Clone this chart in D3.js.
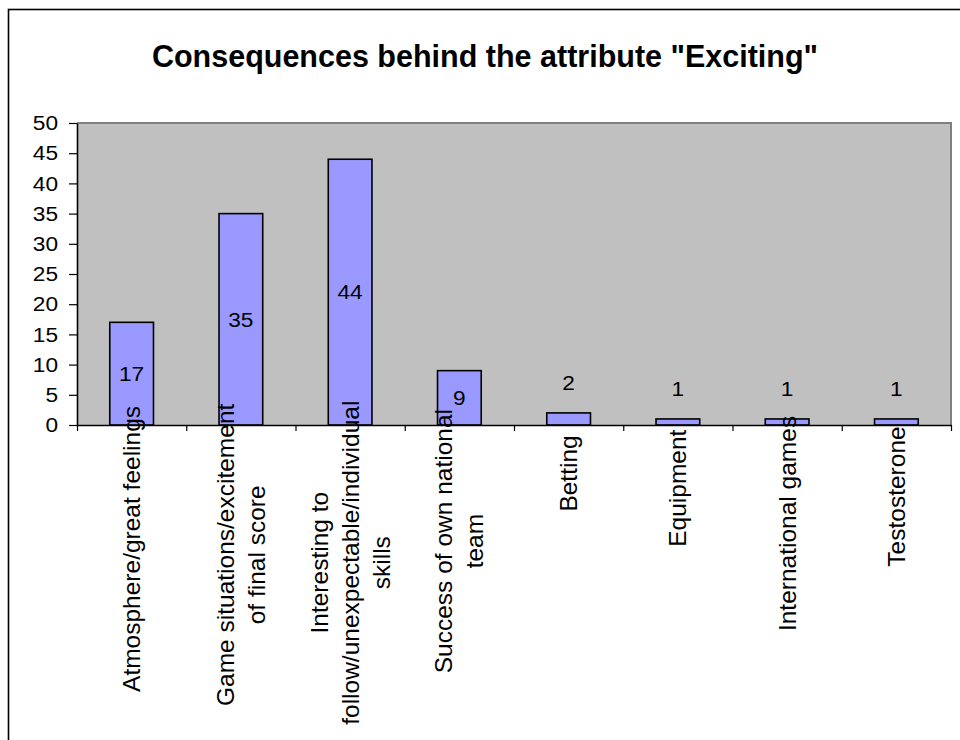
<!DOCTYPE html>
<html>
<head>
<meta charset="utf-8">
<script src="https://cdn.jsdelivr.net/npm/d3@7"></script>
<style>
  body { margin: 0; background: #fff; }
  svg text { font-family: "Liberation Sans", Arial, sans-serif; fill: #000; }
</style>
</head>
<body>
<div class="chartDiv"></div>
<script>
"use strict";

// values
var categories = ["Atmosphere/great feelings", "Game situations/excitement of final score",
  "Interesting to follow/unexpectable/individual skills", "Success of own national team",
  "Betting", "Equipment", "International games", "Testosterone"];
var labelLines = [
  ["Atmosphere/great feelings"],
  ["Game situations/excitement", "of final score"],
  ["Interesting to", "follow/unexpectable/individual", "skills"],
  ["Success of own national", "team"],
  ["Betting"],
  ["Equipment"],
  ["International games"],
  ["Testosterone"]
];
var values = [17, 35, 44, 9, 2, 1, 1, 1];
var yTicks = [0, 5, 10, 15, 20, 25, 30, 35, 40, 45, 50];
var title = "Consequences behind the attribute \"Exciting\"";

var width = 960, height = 740;
var plot = {left: 77, right: 951, top: 123, bottom: 425};
var stretch = 1.08; // numbers in the original are a bit wider than Arial

var svg = d3.select(".chartDiv").append("svg")
    .attr("width", width)
    .attr("height", height);

// outer chart border (runs off the right / bottom edge like the original)
svg.append("rect")
    .attr("x", 8.5).attr("y", 9.5)
    .attr("width", 1000).attr("height", 1000)
    .attr("fill", "#fff")
    .attr("stroke", "#000")
    .attr("stroke-width", 1.6);

svg.append("text")
    .attr("x", 485).attr("y", 67)
    .attr("text-anchor", "middle")
    .style("font-size", "30.5px")
    .style("font-weight", "bold")
    .text(title);

var x = d3.scaleBand()
    .domain(categories)
    .range([plot.left, plot.right])
    .paddingInner(0.6)
    .paddingOuter(0.3);

// index scale, used for the category boundary ticks
var xIdx = d3.scaleLinear()
    .domain([0, categories.length])
    .range([plot.left, plot.right]);

var y = d3.scaleLinear()
    .domain([0, 50])
    .range([plot.bottom, plot.top]);

// plot area
svg.append("rect")
    .attr("x", plot.left).attr("y", plot.top)
    .attr("width", plot.right - plot.left)
    .attr("height", plot.bottom - plot.top)
    .attr("fill", "#c0c0c0");
svg.append("path")
    .attr("d", "M" + plot.left + "," + plot.top + "H" + plot.right + "V" + plot.bottom)
    .attr("fill", "none")
    .attr("stroke", "#808080")
    .attr("stroke-width", 2);

// bars
svg.selectAll(".bar")
    .data(values)
    .enter().append("rect")
    .attr("class", "bar")
    .attr("x", function(d, i) { return x(categories[i]); })
    .attr("y", function(d) { return y(d); })
    .attr("width", x.bandwidth())
    .attr("height", function(d) { return y(0) - y(d); })
    .attr("fill", "#9999ff")
    .attr("stroke", "#000")
    .attr("stroke-width", 1.6);

// axes
var yAxis = svg.append("g")
    .attr("transform", "translate(" + plot.left + ",0)")
    .call(d3.axisLeft(y).tickValues(yTicks).tickSize(8).tickSizeOuter(0).tickPadding(11));
yAxis.selectAll("text")
    .style("font-size", "21px")
    .attr("fill", "#000")
    .attr("x", -19 / stretch)
    .attr("transform", "scale(" + stretch + ",1)");

var xAxis = svg.append("g")
    .attr("transform", "translate(0," + plot.bottom + ")")
    .call(d3.axisBottom(xIdx).ticks(categories.length).tickSize(6).tickSizeOuter(0).tickFormat(""));

svg.selectAll(".domain").attr("stroke", "#000").attr("stroke-width", 1.6);
svg.selectAll(".tick line").attr("stroke", "#000").attr("stroke-width", 1.2);

// value labels: centred in tall bars, above short ones
svg.selectAll(".val")
    .data(values)
    .enter().append("text")
    .attr("class", "val")
    .attr("transform", function(d, i) {
      var cx = x(categories[i]) + x.bandwidth() / 2;
      var cy = d >= 5 ? (y(d) + y(0)) / 2 : y(d) - 30;
      return "translate(" + cx + "," + cy + ") scale(" + stretch + ",1)";
    })
    .attr("dy", "0.35em")
    .attr("text-anchor", "middle")
    .style("font-size", "21px")
    .text(function(d) { return d; });

// rotated category labels
var lineGap = 31;
var cats = svg.selectAll(".cat")
    .data(labelLines)
    .enter().append("g")
    .attr("class", "cat")
    .attr("transform", function(d, i) {
      return "translate(" + (x(categories[i]) + x.bandwidth() / 2) + "," + plot.bottom + ") rotate(-90)";
    });

cats.each(function(lines) {
  var g = d3.select(this);
  var n = lines.length;
  var texts = g.selectAll("text")
      .data(lines)
      .enter().append("text")
      .attr("text-anchor", "middle")
      .attr("y", function(d, k) { return (k - (n - 1) / 2) * lineGap; })
      .attr("dy", "0.35em")
      .style("font-size", "24.5px")
      .text(function(d) { return d; });
  var maxLen = 0;
  texts.each(function() { maxLen = Math.max(maxLen, this.getComputedTextLength()); });
  // long labels creep up toward the axis, as in the original
  texts.attr("x", -(21 + 0.36 * maxLen));
});
</script>
</body>
</html>
